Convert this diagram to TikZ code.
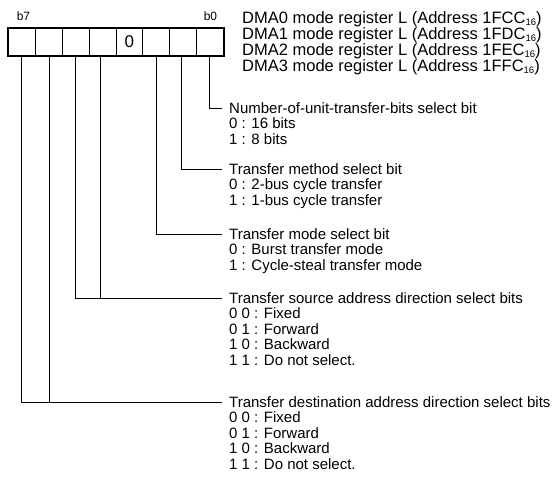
\documentclass[tikz,border=0pt]{standalone}
\usepackage{fontspec}
\setmainfont{Liberation Sans}
\newcommand{\sixteen}{\raisebox{-1.8pt}{\fontsize{9.5}{10}\selectfont 16}}
\begin{document}
\begin{tikzpicture}[x=1pt,y=-1pt,
  desc/.style={anchor=west, inner sep=0pt, text height=10.7pt, text depth=0pt, font=\fontsize{15}{18}\selectfont},
  dma/.style={anchor=west, inner sep=0pt, text height=11.8pt, text depth=0pt, font=\fontsize{16.5}{19}\selectfont},
  bitlbl/.style={inner sep=0pt, text height=8.6pt, text depth=0pt, font=\fontsize{12}{14}\selectfont},
  cell/.style={draw, line width=0.9pt, minimum width=26.875pt, minimum height=27pt, inner sep=0pt, anchor=north west, font=\fontsize{17}{19}\selectfont},
  lead/.style={draw, line width=0.8pt},
  ]
\useasboundingbox (0,0) rectangle (555,480);
% register cells
\node[cell] (c7) at (8,28) {};
\node[cell] (c6) at (34.875,28) {};
\node[cell] (c5) at (61.75,28) {};
\node[cell] (c4) at (88.625,28) {};
\node[cell] (c3) at (115.5,28) {0};
\node[cell] (c2) at (142.375,28) {};
\node[cell] (c1) at (169.25,28) {};
\node[cell] (c0) at (196.125,28) {};
\draw[line width=2pt] (c7.north west) rectangle (c0.south east);
% bit labels
\node[bitlbl] (b7) at (23.5,16) {b7};
\node[bitlbl] (b0) at (210.5,16) {b0};
% DMA titles
\node[dma] (d0) at (242,17.5) {DMA0 mode register L (Address 1FCC\sixteen)};
\node[dma] (d1) at (242,33.5) {DMA1 mode register L (Address 1FDC\sixteen)};
\node[dma] (d2) at (242,49.5) {DMA2 mode register L (Address 1FEC\sixteen)};
\node[dma] (d3) at (242,65.5) {DMA3 mode register L (Address 1FFC\sixteen)};
% descriptions
\node[desc] (t0) at (229,108) {Number-of-unit-transfer-bits select bit};
\node[desc] (t0a) at (229,123.5) {0 : 16 bits};
\node[desc] (t0b) at (229,139) {1 : 8 bits};
\node[desc] (t1) at (229,169) {Transfer method select bit};
\node[desc] (t1a) at (229,184.5) {0 : 2-bus cycle transfer};
\node[desc] (t1b) at (229,200) {1 : 1-bus cycle transfer};
\node[desc] (t2) at (229,234) {Transfer mode select bit};
\node[desc] (t2a) at (229,249.5) {0 : Burst transfer mode};
\node[desc] (t2b) at (229,265) {1 : Cycle-steal transfer mode};
\node[desc] (t3) at (229,298) {Transfer source address direction select bits};
\node[desc] (t3a) at (229,313.5) {0 0 : Fixed};
\node[desc] (t3b) at (229,329) {0 1 : Forward};
\node[desc] (t3c) at (229,344.5) {1 0 : Backward};
\node[desc] (t3d) at (229,360) {1 1 : Do not select.};
\node[desc] (t4) at (229,402) {Transfer destination address direction select bits};
\node[desc] (t4a) at (229,417.5) {0 0 : Fixed};
\node[desc] (t4b) at (229,433) {0 1 : Forward};
\node[desc] (t4c) at (229,448.5) {1 0 : Backward};
\node[desc] (t4d) at (229,464) {1 1 : Do not select.};
% leaders
\draw[lead] ([xshift=-0.6pt]c0.south) |- ([xshift=-7pt]t0.west);
\draw[lead] ([xshift=-1.7pt]c1.south) |- ([xshift=-7pt]t1.west);
\draw[lead] (c2.south) |- ([xshift=-7pt]t2.west);
\draw[lead] (c5.south) |- ([xshift=-7pt]t3.west);
\draw[lead] ([xshift=-2pt]c4.south) -- ([xshift=-2pt]c4.south |- t3.west);
\draw[lead] ([xshift=-0.4pt]c7.south) |- ([xshift=-7pt]t4.west);
\draw[lead] ([xshift=0.5pt]c6.south) -- ([xshift=0.5pt]c6.south |- t4.west);
\end{tikzpicture}
\end{document}
